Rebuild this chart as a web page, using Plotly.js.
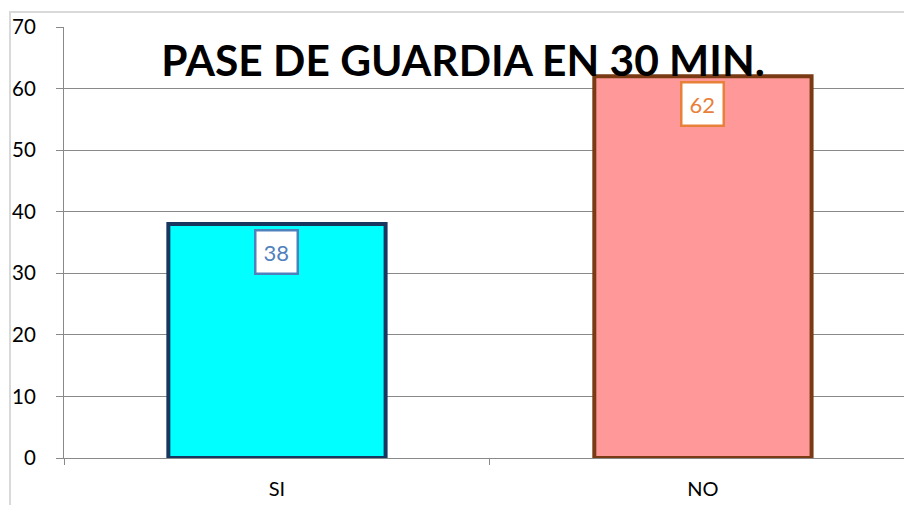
<!DOCTYPE html>
<html><head><meta charset="utf-8">
<script src="https://cdn.plot.ly/plotly-3.0.1.min.js"></script>
<style>
html,body{margin:0;padding:0;background:#fff;overflow:hidden;}
#chart{position:absolute;left:0;top:0;width:904px;height:505px;}
#frame{position:absolute;left:9px;top:11px;width:1000px;height:1000px;border:2px solid #d9d9d9;pointer-events:none;}
</style></head>
<body>
<div id="frame"></div>
<div id="chart"></div>
<script>
const categories = ["SI", "NO"];
const values = [38, 62];
const fillColors = ["#00FFFF", "#FF9999"];
const borderColors = ["#17375E", "#7A3A14"];
const labelColors = ["#4F81BD", "#E8803A"];
const yTicks = [0, 10, 20, 30, 40, 50, 60, 70];
const titleText = "PASE DE GUARDIA EN 30 MIN.";

const trace = {
  type: "bar",
  x: categories,
  y: values,
  width: 0.51,
  marker: {color: fillColors, line: {color: borderColors, width: 4}},
  hoverinfo: "none"
};

const annotations = categories.map((c, i) => ({
  x: c, y: values[i], xref: "x", yref: "y",
  text: String(values[i]), showarrow: false,
  yanchor: "middle", yshift: -28,
  font: {family: "Lato, 'Noto Sans', sans-serif", size: 22, color: labelColors[i]},
  bgcolor: "#ffffff", bordercolor: labelColors[i], borderwidth: 2.5, borderpad: 7
}));

const layout = {
  width: 904, height: 505,
  margin: {l: 64, r: 0, t: 27, b: 47, pad: 0},
  paper_bgcolor: "rgba(0,0,0,0)", plot_bgcolor: "rgba(0,0,0,0)",
  showlegend: false,
  font: {family: "Lato, 'Noto Sans', sans-serif", color: "#000"},
  title: {text: "<b>" + titleText + "</b>", x: 0.5122, xanchor: "center", y: 0.878, yanchor: "middle",
          font: {family: "Lato, 'Noto Sans', sans-serif", size: 42.5, color: "#000"}},
  xaxis: {type: "category", range: [-0.5, 1.472], showgrid: false,
          showline: true, linecolor: "#898989", linewidth: 1,
          ticks: "outside", tickson: "boundaries", ticklen: 6, tickcolor: "#898989",
          tickfont: {size: 20, color: "#000"}, ticklabelstandoff: 13, fixedrange: true},
  yaxis: {range: [0, 70], tickvals: yTicks, showgrid: true, gridcolor: "#898989", gridwidth: 1,
          showline: true, linecolor: "#898989", linewidth: 1, zeroline: false,
          ticks: "outside", ticklen: 7, tickcolor: "#898989",
          tickfont: {size: 20.5, color: "#000"}, ticklabelstandoff: 16, fixedrange: true},
  annotations: annotations
};

Plotly.newPlot("chart", [trace], layout, {displayModeBar: false, staticPlot: true});
</script>
</body></html>
